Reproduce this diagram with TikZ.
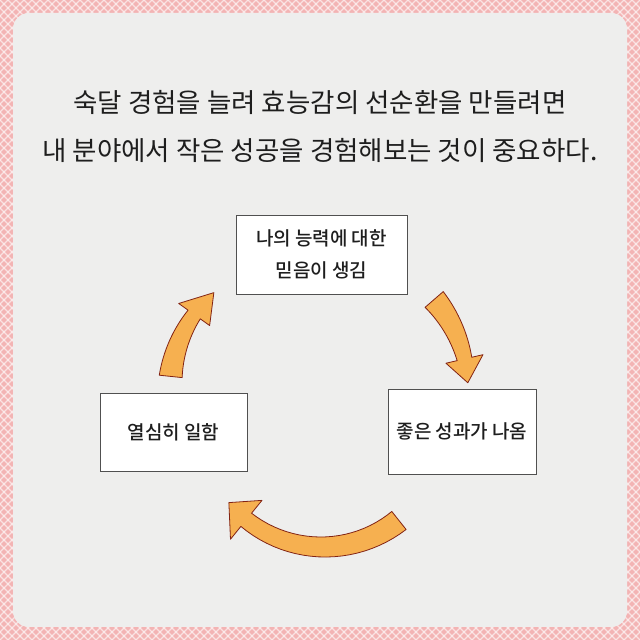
\documentclass[tikz,border=0pt]{standalone}
\usepackage{fontspec}
\setmainfont{Noto Sans CJK KR}
\newfontfamily\penfont{Noto Sans CJK KR Medium}
\usetikzlibrary{positioning,calc}
\definecolor{pinkbg}{RGB}{243,180,180}
\definecolor{card}{RGB}{238,238,237}
\definecolor{ink}{RGB}{30,30,30}
\definecolor{boxline}{RGB}{80,80,80}
\definecolor{arrowfill}{RGB}{246,176,80}
\definecolor{arrowline}{RGB}{130,35,20}
\newcommand{\cyclebox}[3]{\node[stepbox,#2](#1){#3};}
\newcommand{\bentarrow}[8]{\begin{scope}[shift={(#1)}]
\draw[blockarrow] plot[domain=#3:#4,variable=\t,samples=24] (\t:{#2+(#6+(#7-#6)*(\t-(#3))/((#4)-(#3)))/2})
  -- (#4:{#2+#8}) -- (#5:#2) -- (#4:{#2-#8})
  -- plot[domain=#4:#3,variable=\t,samples=24] (\t:{#2-(#6+(#7-#6)*(\t-(#3))/((#4)-(#3)))/2}) -- cycle;
\end{scope}}

\begin{document}
\begin{tikzpicture}[x=1pt,y=1pt,
  hatch/.style={white,line width=1.2pt,opacity=0.6},
  stepbox/.style={rectangle,draw=boxline,line width=0.8pt,fill=white,align=center,
    text=ink,font=\penfont\fontsize{19}{32}\selectfont,inner sep=0pt},
  headline/.style={align=center,text=ink,font=\fontsize{26.5}{48}\selectfont},
  blockarrow/.style={fill=arrowfill,draw=arrowline,line width=0.8pt,line join=round}]

\useasboundingbox (0,0) rectangle (640,640);
\fill[pinkbg] (0,0) rectangle (640,640);
\begin{scope}
\clip (0,0) rectangle (640,640);
\foreach \k in {-640,-632,...,640}{
  \draw[hatch] (\k,0) -- ++(640,640);
  \draw[hatch] (\k,640) -- ++(640,-640);
}
\end{scope}
\fill[card,rounded corners=16pt] (13,13) rectangle (627,627);

\node[headline](title) at (320,514){숙달 경험을 늘려 효능감의 선순환을 만들려면\\내 분야에서 작은 성공을 경험해보는 것이 중요하다.};

\cyclebox{belief}{at={(321.5,385.5)},minimum width=171pt,minimum height=79pt}{나의 능력에 대한\\믿음이 생김}
\cyclebox{work}{at={(173.5,208)},minimum width=147pt,minimum height=78pt}{열심히 일함}
\cyclebox{result}{at={(462,208.5)},minimum width=148pt,minimum height=85pt}{좋은 성과가 나옴}

\coordinate (c1) at (330,250);
\coordinate (c2) at (300,250);
\coordinate (c3) at (323,215);
\bentarrow{c1}{138}{41}{13}{3}{24}{15}{19}
\bentarrow{c2}{130}{174}{144.5}{131.5}{23}{15}{19}
\bentarrow{c3}{122}{-51.5}{-129}{-140.5}{23}{17}{25}

\end{tikzpicture}
\end{document}
